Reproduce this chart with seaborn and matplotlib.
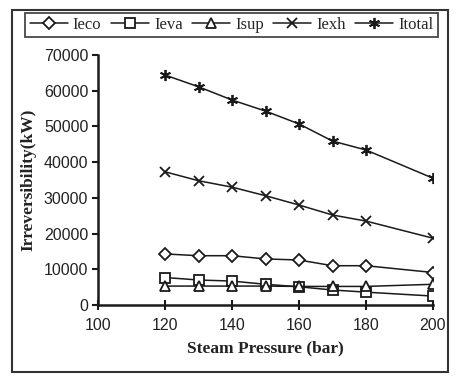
import matplotlib
matplotlib.use("Agg")
import matplotlib.pyplot as plt
import seaborn as sns
import pandas as pd
from matplotlib.patches import Rectangle

pressure = [120, 130, 140, 150, 160, 170, 180, 200]
ieco = [14300, 13800, 13800, 12900, 12600, 11000, 11000, 9100]
ieva = [7700, 7000, 6700, 5800, 5100, 4200, 3600, 2500]
isup = [5300, 5300, 5300, 5300, 5200, 5200, 5200, 5800]
iexh = [37300, 34800, 33000, 30600, 28000, 25200, 23500, 18700]
itotal = [64400, 61100, 57400, 54300, 50700, 45900, 43400, 35500]

series_names = ["Ieco", "Ieva", "Isup", "Iexh", "Itotal"]
series_vals = [ieco, ieva, isup, iexh, itotal]

rows = []
for name, vals in zip(series_names, series_vals):
    for p, v in zip(pressure, vals):
        rows.append({"Pressure": p, "Value": v, "Series": name})
df = pd.DataFrame(rows)

sns.set_style("white")
fig = plt.figure(figsize=(4.57, 3.82), dpi=100)
ax = fig.add_axes([98/457, 1-305/382, (433-98)/457, (305-55)/382])

markers = {"Ieco": "D", "Ieva": "s", "Isup": "^", "Iexh": "x", "Itotal": (6, 2, 0)}
sizes = {"Ieco": 6, "Ieva": 7, "Isup": 6.5, "Iexh": 7, "Itotal": 8}
for name in series_names:
    sub = df[df["Series"] == name]
    sns.lineplot(data=sub, x="Pressure", y="Value", ax=ax, color="#1a1a1a",
                 linewidth=1.1, marker=markers[name], markersize=sizes[name],
                 markerfacecolor="white", markeredgecolor="#1a1a1a",
                 markeredgewidth=1.3, label=name, legend=False)

ax.set_xlim(100, 200)
ax.set_ylim(0, 70000)
ax.set_xticks([100, 120, 140, 160, 180, 200])
ax.set_yticks(range(0, 70001, 10000))
for s in ["top", "right"]:
    ax.spines[s].set_visible(False)
for s in ["left", "bottom"]:
    ax.spines[s].set_color("#1a1a1a")
    ax.spines[s].set_linewidth(1.8)
ax.tick_params(axis="y", direction="out", length=4, width=1.5, colors="#1a1a1a",
               labelsize=11.5, left=True, pad=3)
ax.tick_params(axis="x", direction="inout", length=7, width=1.5, colors="#1a1a1a",
               labelsize=11.5, bottom=True, pad=6)
for lab in ax.get_xticklabels() + ax.get_yticklabels():
    lab.set_fontfamily("Liberation Sans")
    lab.set_color("#222222")

ax.set_xlabel("Steam Pressure (bar)", fontfamily="Liberation Serif", fontweight="bold",
              fontsize=12.5, color="#222222", labelpad=5)
ax.set_ylabel("Irreversibility(kW)", fontfamily="Liberation Serif", fontweight="bold",
              fontsize=12.5, color="#222222")
ax.yaxis.set_label_coords(-0.185, 0.5)

handles, labels = ax.get_legend_handles_labels()
leg = fig.legend(handles, labels, loc="center", ncol=5,
                 bbox_to_anchor=(231.5/457, 1-25/382),
                 frameon=True, fancybox=False, edgecolor="#1a1a1a",
                 prop={"family": "Liberation Serif", "size": 12},
                 handlelength=2.3, handletextpad=0.3, columnspacing=0.55,
                 borderpad=0.25, borderaxespad=0)
leg.get_frame().set_linewidth(1.3)

fig.patches.append(Rectangle((12/457, 1-372/382), (448-12)/457, (372-10)/382,
                             transform=fig.transFigure, fill=False,
                             edgecolor="#333333", linewidth=1.5))

fig.savefig("out.png", dpi=100)
